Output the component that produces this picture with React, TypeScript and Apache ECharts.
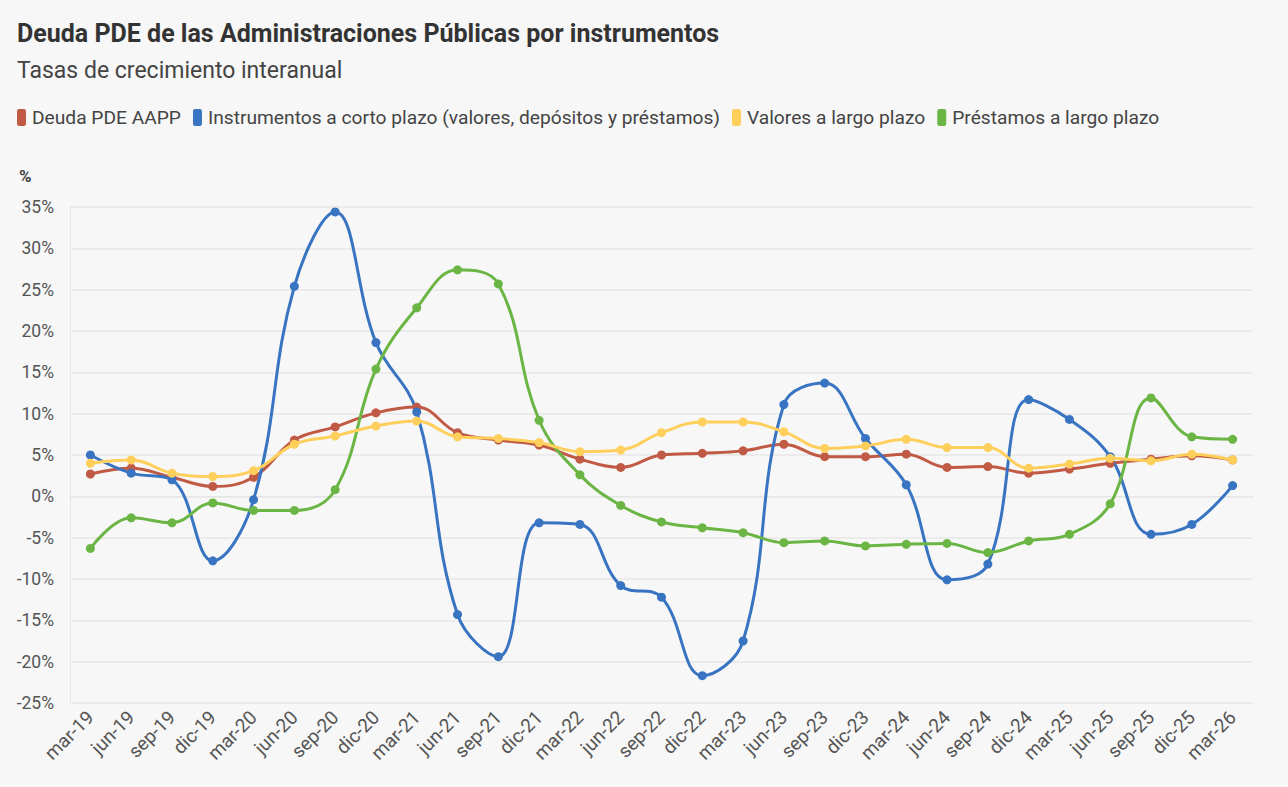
import React, { useEffect, useRef } from "react";
import * as echarts from "echarts";

const categories = [
  "mar-19", "jun-19", "sep-19", "dic-19", "mar-20", "jun-20", "sep-20", "dic-20",
  "mar-21", "jun-21", "sep-21", "dic-21", "mar-22", "jun-22", "sep-22", "dic-22",
  "mar-23", "jun-23", "sep-23", "dic-23", "mar-24", "jun-24", "sep-24", "dic-24",
  "mar-25", "jun-25", "sep-25", "dic-25", "mar-26",
];

const deudaPDE = [
  2.7, 3.4, 2.3, 1.2, 2.3, 6.8, 8.4, 10.1,
  10.8, 7.7, 6.8, 6.2, 4.5, 3.5, 5.0, 5.2,
  5.5, 6.3, 4.8, 4.8, 5.1, 3.5, 3.6, 2.8,
  3.3, 4.0, 4.5, 4.9, 4.4,
];

const cortoPlazo = [
  5.0, 2.8, 2.0, -7.8, -0.4, 25.4, 34.4, 18.6,
  10.2, -14.3, -19.4, -3.2, -3.4, -10.8, -12.2, -21.7,
  -17.5, 11.1, 13.7, 7.0, 1.4, -10.1, -8.2, 11.7,
  9.3, 4.8, -4.6, -3.4, 1.3,
];

const valoresLargo = [
  4.0, 4.4, 2.8, 2.4, 3.1, 6.3, 7.3, 8.5,
  9.1, 7.2, 7.0, 6.5, 5.4, 5.6, 7.7, 9.0,
  9.0, 7.8, 5.8, 6.1, 6.9, 5.9, 5.9, 3.4,
  3.9, 4.6, 4.3, 5.1, 4.4,
];

const prestamosLargo = [
  -6.3, -2.6, -3.2, -0.8, -1.7, -1.7, 0.8, 15.4,
  22.8, 27.4, 25.7, 9.2, 2.6, -1.1, -3.1, -3.8,
  -4.4, -5.6, -5.4, -6.0, -5.8, -5.7, -6.8, -5.4,
  -4.6, -0.9, 11.9, 7.2, 6.9,
];

const seriesNames = [
  "Deuda PDE AAPP",
  "Instrumentos a corto plazo (valores, depósitos y préstamos)",
  "Valores a largo plazo",
  "Préstamos a largo plazo",
];
const seriesColors = ["#C05A44", "#3874C2", "#FFCF5C", "#6BB544"];

const TITLE = "Deuda PDE de las Administraciones Públicas por instrumentos";
const SUBTITLE = "Tasas de crecimiento interanual";
const UNIT = "%";

export default function App() {
  const ref = useRef<HTMLDivElement>(null);

  useEffect(() => {
    if (!ref.current) return;
    const chart = echarts.init(ref.current, undefined, { renderer: "svg" });
    const font = "Roboto, 'Noto Sans', sans-serif";
    const dataSets = [deudaPDE, cortoPlazo, valoresLargo, prestamosLargo];
    chart.setOption({
      animation: false,
      backgroundColor: "#F7F7F7",
      textStyle: { fontFamily: font },
      title: [
        {
          text: TITLE,
          left: 12,
          top: 16,
          textStyle: { fontSize: 25, fontWeight: "bold", color: "#333333", fontFamily: font },
        },
        {
          text: SUBTITLE,
          left: 12,
          top: 54,
          textStyle: { fontSize: 23, fontWeight: "normal", color: "#444444", fontFamily: font },
        },
        {
          text: UNIT,
          left: 14,
          top: 162,
          textStyle: { fontSize: 17, fontWeight: "bold", color: "#444444", fontFamily: font },
        },
      ],
      legend: {
        left: 12,
        top: 103,
        icon: "roundRect",
        itemWidth: 9,
        itemHeight: 17,
        itemGap: 12,
        data: seriesNames,
        textStyle: { fontSize: 19.2, color: "#444444", fontFamily: font, padding: [0, 0, 0, 1] },
      },
      grid: { left: 70, right: 35, top: 207, bottom: 84, containLabel: false },
      xAxis: {
        type: "category",
        data: categories,
        boundaryGap: true,
        axisLine: { lineStyle: { color: "#E6E6E6", width: 1 } },
        axisTick: { alignWithLabel: true, length: 8, lineStyle: { color: "#E6E6E6" } },
        axisLabel: {
          rotate: 45,
          interval: 0,
          fontSize: 19,
          color: "#555555",
          fontFamily: font,
          margin: 11,
        },
        splitLine: { show: false },
      },
      yAxis: {
        type: "value",
        min: -25,
        max: 35,
        interval: 5,
        axisLine: { show: true, lineStyle: { color: "#E6E6E6" } },
        axisTick: { show: false },
        axisLabel: {
          formatter: "{value}%",
          fontSize: 17.5,
          color: "#555555",
          fontFamily: font,
          margin: 16,
        },
        splitLine: { lineStyle: { color: "#EBEBEB", width: 2 } },
      },
      series: seriesNames.map((name, i) => ({
        name,
        type: "line",
        data: dataSets[i],
        smooth: 0.4,
        symbol: "circle",
        symbolSize: 9,
        lineStyle: { width: 3, color: seriesColors[i] },
        itemStyle: { color: seriesColors[i] },
        z: i === 2 ? 3 : 2,
      })),
    });
    return () => chart.dispose();
  }, []);

  return (
    <div
      ref={ref}
      style={{ position: "fixed", left: 0, top: 0, width: 1288, height: 787 }}
    />
  );
}
